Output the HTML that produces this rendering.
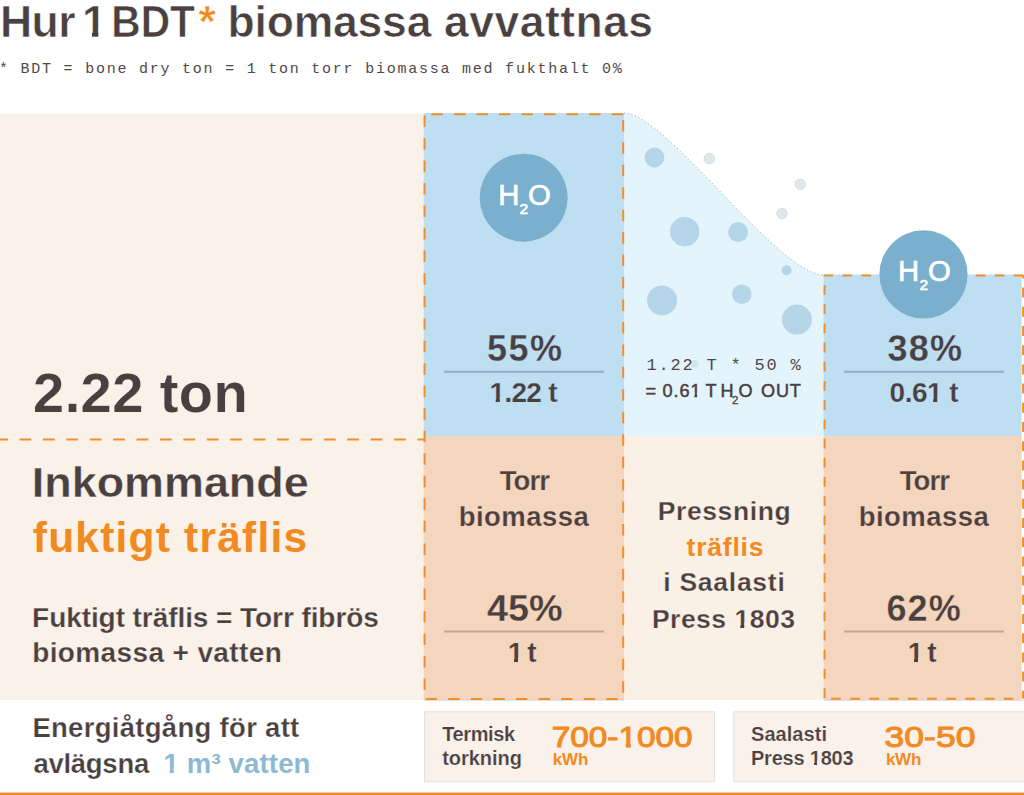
<!DOCTYPE html>
<html><head><meta charset="utf-8">
<style>
html,body{margin:0;padding:0;}
body{width:1024px;height:795px;position:relative;overflow:hidden;background:#fff;font-family:"Liberation Sans",Arial,sans-serif;color:#4a4040;}
.a{position:absolute;white-space:nowrap;line-height:1;font-weight:bold;}
svg{position:absolute;left:0;top:0;}
</style></head><body>
<svg width="1024" height="795" viewBox="0 0 1024 795">
<rect x="0" y="113.6" width="424" height="586.4" fill="#faf1e8"/>
<rect x="423.7" y="113" width="200.3" height="323" fill="#bddff1"/>
<rect x="423.7" y="436" width="200.3" height="264" fill="#f4d5bd"/>
<path d="M624,113 C666,113 778,275 824,275 L824,436 L624,436 Z" fill="#e4f4fc"/>
<path d="M624,113 C666,113 778,275 824,275" fill="none" stroke="#7d878c" stroke-width="0.7" stroke-dasharray="1.2 2.6"/>
<rect x="624" y="436" width="200" height="264" fill="#fbf0e6"/>
<rect x="823.6" y="274.5" width="198" height="161.5" fill="#bddff1"/>
<rect x="823.6" y="436" width="198" height="264" fill="#f4d5bd"/>
<g fill="#b5d6e8">
<circle cx="654.5" cy="157.5" r="9.9"/>
<circle cx="684.7" cy="231.7" r="14.7"/>
<circle cx="738.1" cy="232.1" r="10"/>
<circle cx="786.7" cy="270.2" r="5"/>
<circle cx="662.1" cy="300.4" r="15"/>
<circle cx="741.8" cy="294.2" r="9.8"/>
<circle cx="796.9" cy="319.6" r="15"/>
</g>
<circle cx="694.8" cy="364.1" r="4" fill="#d3e6ef"/>
<g fill="#dfe8ed" stroke="#c5cfd4" stroke-width="0.6">
<circle cx="709.4" cy="158.6" r="5.3"/>
<circle cx="800.3" cy="184.2" r="5.2"/>
<circle cx="782" cy="213.6" r="5.2"/>
</g>
<g stroke-width="2">
<line x1="444" y1="371.8" x2="604" y2="371.8" stroke="#8fb0c4"/>
<line x1="844" y1="371.8" x2="1004" y2="371.8" stroke="#8fb0c4"/>
<line x1="444" y1="631.6" x2="604.2" y2="631.6" stroke="#c6a693"/>
<line x1="844" y1="631.6" x2="1004" y2="631.6" stroke="#c6a693"/>
</g>
<g stroke="#d6d1d0" stroke-width="0.8"><line x1="424" y1="700.3" x2="624" y2="700.3"/><line x1="824" y1="700.3" x2="1024" y2="700.3"/></g>
<line x1="424.6" y1="114.2" x2="624" y2="114.2" stroke="#f0902c" stroke-width="2" stroke-dasharray="11.5 11.05" stroke-dashoffset="15.85"/>
<line x1="424.6" y1="114.2" x2="424.6" y2="699" stroke="#f0902c" stroke-width="2" stroke-dasharray="11.5 11.02" stroke-dashoffset="21.22"/>
<line x1="623.2" y1="114.2" x2="623.2" y2="699" stroke="#f0902c" stroke-width="2" stroke-dasharray="11.5 10.95" stroke-dashoffset="16.75"/>
<line x1="424.6" y1="699" x2="623.2" y2="699" stroke="#f0902c" stroke-width="2" stroke-dasharray="11.3 11.279999999999998" stroke-dashoffset="21.48"/>
<line x1="823.6" y1="275.5" x2="1024" y2="275.5" stroke="#f0902c" stroke-width="2" stroke-dasharray="9.8 9.25" stroke-dashoffset="0.30"/>
<line x1="824.6" y1="275.5" x2="824.6" y2="698.8" stroke="#f0902c" stroke-width="2" stroke-dasharray="9.8 9.399999999999999" stroke-dashoffset="9.70"/>
<line x1="1023.1" y1="275.5" x2="1023.1" y2="698.8" stroke="#f0902c" stroke-width="2" stroke-dasharray="10 9.2" stroke-dashoffset="7.10"/>
<line x1="824.6" y1="698.8" x2="1023" y2="698.8" stroke="#f0902c" stroke-width="2" stroke-dasharray="9.8 9.399999999999999" stroke-dashoffset="12.80"/>
<line x1="0" y1="439.5" x2="424" y2="439.5" stroke="#f0902c" stroke-width="2" stroke-dasharray="11.8 11.61" stroke-dashoffset="3.90"/>
<circle cx="523.7" cy="197.7" r="44" fill="#7ab0cd"/>
<circle cx="923.5" cy="274.4" r="44.1" fill="#7ab0cd"/>
<rect x="424.4" y="711.8" width="290" height="70" fill="#faf1ea" stroke="#e2dbd6" stroke-width="0.8"/>
<rect x="733.8" y="711.8" width="295" height="70" fill="#faf1ea" stroke="#e2dbd6" stroke-width="0.8"/>
<rect x="0" y="792.6" width="1024" height="2.4" fill="#f28a22"/>
</svg>
<div class="a" style="left:-0.1px;top:0.3px;font-size:44.5px;letter-spacing:-0.5px;-webkit-text-stroke:0.6px #fff;">Hur</div>
<div class="a" style="left:81.9px;top:0.3px;font-size:44.5px;clip-path:polygon(0 0,100% 0,100% 0.65em,0.37em 0.65em,0.37em 100%,0.225em 100%,0.225em 0.65em,0 0.65em);-webkit-text-stroke:0.6px #fff;">1</div>
<div class="a" style="left:111px;top:0.3px;font-size:44.5px;transform:scaleX(0.915);transform-origin:3.00px 0;-webkit-text-stroke:0.6px #fff;">BDT</div>
<div class="a" style="left:227.5px;top:0.3px;font-size:44.5px;letter-spacing:-0.2px;-webkit-text-stroke:0.6px #fff;">biomassa</div>
<div class="a" style="left:444px;top:0.3px;font-size:44.5px;letter-spacing:0.475px;-webkit-text-stroke:0.6px #fff;">avvattnas</div>
<div class="a" style="left:198.6px;top:0.3px;font-size:44.5px;color:#f28a22;-webkit-text-stroke:0.6px #fff;">*</div>
<div class="a" style="left:-1px;top:61.9px;font-size:15px;letter-spacing:1.767px;font-weight:normal;color:#504848;font-family:'Liberation Mono',monospace;">* BDT = bone dry ton = 1 ton torr biomassa med fukthalt 0%</div>
<div class="a" style="left:33.1px;top:364.7px;font-size:56px;letter-spacing:0.414px;-webkit-text-stroke:0.2px #faf1e8;">2.22 ton</div>
<div class="a" style="left:32.3px;top:461.6px;font-size:42.5px;transform:scaleX(1.056);transform-origin:3.00px 0;-webkit-text-stroke:0.35px #faf1e8;">Inkommande</div>
<div class="a" style="left:32.8px;top:516.7px;font-size:42.5px;letter-spacing:1.207px;color:#f28a22;">fuktigt träflis</div>
<div class="a" style="left:32.1px;top:604.1px;font-size:28px;letter-spacing:-0.071px;-webkit-text-stroke:0.25px #faf1e8;">Fuktigt träflis = Torr fibrös</div>
<div class="a" style="left:32.2px;top:638.9px;font-size:28px;letter-spacing:0.375px;-webkit-text-stroke:0.25px #faf1e8;">biomassa + vatten</div>
<div class="a" style="left:498.2px;top:179.9px;font-size:29.3px;font-weight:normal;color:#fff;-webkit-text-stroke:0.7px #fff;">H</div>
<div class="a" style="left:519.5px;top:200.7px;font-size:15.5px;font-weight:normal;color:#fff;-webkit-text-stroke:0.7px #fff;">2</div>
<div class="a" style="left:528.1px;top:179.9px;font-size:29.3px;font-weight:normal;color:#fff;-webkit-text-stroke:0.7px #fff;">O</div>
<div class="a" style="left:898.1px;top:256.1px;font-size:29.3px;font-weight:normal;color:#fff;-webkit-text-stroke:0.7px #fff;">H</div>
<div class="a" style="left:919.4px;top:276.9px;font-size:15.5px;font-weight:normal;color:#fff;-webkit-text-stroke:0.7px #fff;">2</div>
<div class="a" style="left:928.0px;top:256.1px;font-size:29.3px;font-weight:normal;color:#fff;-webkit-text-stroke:0.7px #fff;">O</div>
<div class="a" style="left:487.1px;top:330.7px;font-size:36px;letter-spacing:1.4px;-webkit-text-stroke:0.3px #bddff1;">55%</div>
<div class="a" style="left:489.5px;top:379.2px;font-size:28px;letter-spacing:-0.7px;-webkit-text-stroke:0.25px #bddff1;"><span style="display:inline-block;clip-path:polygon(0 0,100% 0,100% 0.65em,0.37em 0.65em,0.37em 100%,0.22em 100%,0.22em 0.65em,0 0.65em);">1</span>.22 t</div>
<div class="a" style="left:887.4px;top:330.7px;font-size:36px;letter-spacing:1.3px;-webkit-text-stroke:0.3px #bddff1;">38%</div>
<div class="a" style="left:889.6px;top:379.2px;font-size:28px;letter-spacing:-0.52px;-webkit-text-stroke:0.25px #bddff1;">0.6<span style="display:inline-block;clip-path:polygon(0 0,100% 0,100% 0.65em,0.37em 0.65em,0.37em 100%,0.22em 100%,0.22em 0.65em,0 0.65em);">1</span> t</div>
<div class="a" style="left:499.8px;top:466.6px;font-size:27.5px;letter-spacing:-0.967px;-webkit-text-stroke:0.25px #f4d5bd;">Torr</div>
<div class="a" style="left:458.8px;top:502.7px;font-size:27.5px;letter-spacing:0.443px;-webkit-text-stroke:0.25px #f4d5bd;">biomassa</div>
<div class="a" style="left:507.7px;top:639.3px;font-size:28px;clip-path:polygon(0 0,100% 0,100% 0.65em,0.37em 0.65em,0.37em 100%,0.225em 100%,0.225em 0.65em,0 0.65em);-webkit-text-stroke:0.2px #f4d5bd;">1</div>
<div class="a" style="left:527.2px;top:639.3px;font-size:28px;-webkit-text-stroke:0.2px #f4d5bd;">t</div>
<div class="a" style="left:899.8px;top:466.6px;font-size:27.5px;letter-spacing:-0.967px;-webkit-text-stroke:0.25px #f4d5bd;">Torr</div>
<div class="a" style="left:858.8px;top:502.7px;font-size:27.5px;letter-spacing:0.443px;-webkit-text-stroke:0.25px #f4d5bd;">biomassa</div>
<div class="a" style="left:907.7px;top:639.3px;font-size:28px;clip-path:polygon(0 0,100% 0,100% 0.65em,0.37em 0.65em,0.37em 100%,0.225em 100%,0.225em 0.65em,0 0.65em);-webkit-text-stroke:0.2px #f4d5bd;">1</div>
<div class="a" style="left:927.2px;top:639.3px;font-size:28px;-webkit-text-stroke:0.2px #f4d5bd;">t</div>
<div class="a" style="left:486.7px;top:590.6px;font-size:36px;transform:scaleX(1.051);transform-origin:1.00px 0;-webkit-text-stroke:0.3px #f4d5bd;">45%</div>
<div class="a" style="left:886.6px;top:590.6px;font-size:36px;letter-spacing:1.0px;-webkit-text-stroke:0.3px #f4d5bd;">62%</div>
<div class="a" style="left:646.5px;top:356.9px;font-size:17px;letter-spacing:1.792px;font-weight:normal;color:#504848;font-family:'Liberation Mono',monospace;">1.22 T * 50 %</div>
<div class="a" style="left:645.6px;top:381.5px;font-size:18.1px;font-weight:normal;-webkit-text-stroke:0.5px #4a4040;">=</div>
<div class="a" style="left:662.4px;top:381.5px;font-size:18.1px;letter-spacing:0.967px;font-weight:normal;-webkit-text-stroke:0.5px #4a4040;">0.6<span style="display:inline-block;clip-path:polygon(0 0,100% 0,100% 0.65em,0.37em 0.65em,0.37em 100%,0.22em 100%,0.22em 0.65em,0 0.65em);">1</span></div>
<div class="a" style="left:705.6px;top:381.5px;font-size:18.1px;font-weight:normal;-webkit-text-stroke:0.5px #4a4040;">T</div>
<div class="a" style="left:720.6px;top:381.5px;font-size:18.1px;font-weight:normal;-webkit-text-stroke:0.5px #4a4040;">H</div>
<div class="a" style="left:738.6px;top:381.5px;font-size:18.1px;font-weight:normal;-webkit-text-stroke:0.5px #4a4040;">O</div>
<div class="a" style="left:761px;top:381.5px;font-size:18.1px;letter-spacing:0.85px;font-weight:normal;-webkit-text-stroke:0.5px #4a4040;">OUT</div>
<div class="a" style="left:732.1px;top:395px;font-size:11.5px;font-weight:normal;-webkit-text-stroke:0.3px #4a4040;">2</div>
<div class="a" style="left:657.7px;top:498px;font-size:26.5px;letter-spacing:0.612px;-webkit-text-stroke:0.25px #fbf0e6;">Pressning</div>
<div class="a" style="left:686.6px;top:533.9px;font-size:26.5px;letter-spacing:0.783px;color:#f28a22;">träflis</div>
<div class="a" style="left:663.2px;top:569.2px;font-size:26.5px;letter-spacing:0.744px;-webkit-text-stroke:0.25px #fbf0e6;">i Saalasti</div>
<div class="a" style="left:651.9px;top:605.6px;font-size:26.5px;letter-spacing:0.5px;-webkit-text-stroke:0.25px #fbf0e6;">Press <span style="display:inline-block;clip-path:polygon(0 0,100% 0,100% 0.65em,0.37em 0.65em,0.37em 100%,0.22em 100%,0.22em 0.65em,0 0.65em);">1</span>803</div>
<div class="a" style="left:32.4px;top:714.2px;font-size:27.5px;letter-spacing:0.295px;-webkit-text-stroke:0.25px #fff;">Energiåtgång för att</div>
<div class="a" style="left:33.4px;top:750px;font-size:27.5px;letter-spacing:-0.271px;-webkit-text-stroke:0.25px #fff;">avlägsna</div>
<div class="a" style="left:163.6px;top:750px;font-size:27.5px;letter-spacing:0.16px;color:#8dbad2;"><span style="display:inline-block;clip-path:polygon(0 0,100% 0,100% 0.65em,0.37em 0.65em,0.37em 100%,0.22em 100%,0.22em 0.65em,0 0.65em);">1</span> m³ vatten</div>
<div class="a" style="left:442.2px;top:723.9px;font-size:20px;letter-spacing:-0.383px;-webkit-text-stroke:0.2px #faf1ea;">Termisk</div>
<div class="a" style="left:442.2px;top:748.1px;font-size:20px;letter-spacing:-0.029px;-webkit-text-stroke:0.2px #faf1ea;">torkning</div>
<div class="a" style="left:551.7px;top:722.9px;font-size:29px;font-weight:normal;color:#f28a22;transform:scaleX(1.150);transform-origin:2.00px 0;-webkit-text-stroke:1px #f28a22;">700-<span style="display:inline-block;clip-path:polygon(0 0,100% 0,100% 0.65em,0.37em 0.65em,0.37em 100%,0.22em 100%,0.22em 0.65em,0 0.65em);">1</span>000</div>
<div class="a" style="left:552.7px;top:751.1px;font-size:17px;letter-spacing:-0.05px;color:#f28a22;">kWh</div>
<div class="a" style="left:751px;top:723.7px;font-size:20px;letter-spacing:0.057px;-webkit-text-stroke:0.2px #faf1ea;">Saalasti</div>
<div class="a" style="left:751px;top:747.7px;font-size:20px;letter-spacing:-0.222px;-webkit-text-stroke:0.2px #faf1ea;">Press <span style="display:inline-block;clip-path:polygon(0 0,100% 0,100% 0.65em,0.37em 0.65em,0.37em 100%,0.22em 100%,0.22em 0.65em,0 0.65em);">1</span>803</div>
<div class="a" style="left:884.9px;top:722.9px;font-size:29px;font-weight:normal;color:#f28a22;transform:scaleX(1.225);transform-origin:2.00px 0;-webkit-text-stroke:1px #f28a22;">30-50</div>
<div class="a" style="left:885.9px;top:751.1px;font-size:17px;letter-spacing:-0.25px;color:#f28a22;">kWh</div>
</body></html>
